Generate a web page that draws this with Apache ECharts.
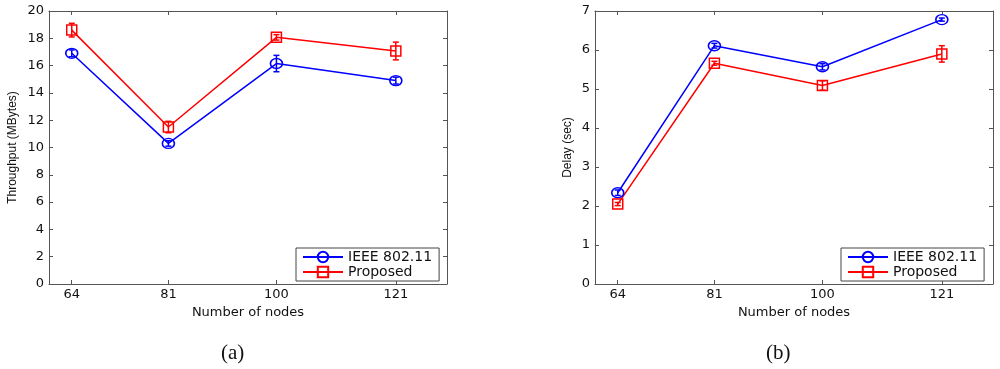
<!DOCTYPE html>
<html><head><meta charset="utf-8">
<script src="https://cdn.jsdelivr.net/npm/echarts@6/dist/echarts.min.js"></script>
<style>html,body{margin:0;padding:0;background:#fff}#c{width:1000px;height:369px}</style>
</head><body><div id="c"></div>
<script>
var nodes = [64, 81, 100, 121];
var thrIEEE = [16.9, 10.3, 16.15, 14.9];
var thrIEEEErr = [0.25, 0.2, 0.6, 0.25];
var thrProp = [18.6, 11.5, 18.07, 17.07];
var thrPropErr = [0.5, 0.42, 0.2, 0.65];
var delIEEE = [2.34, 6.11, 5.57, 6.78];
var delIEEEErr = [0.07, 0.06, 0.08, 0.04];
var delProp = [2.05, 5.66, 5.09, 5.9];
var delPropErr = [0.04, 0.05, 0.12, 0.21];
var thrTicks = [0, 2, 4, 6, 8, 10, 12, 14, 16, 18, 20];
var delTicks = [0, 1, 2, 3, 4, 5, 6, 7];

var BLUE = '#0000ff', RED = '#ff0000', AX = '#555';
var FONT = 'DejaVu Sans';

function pts(ys){ return nodes.map(function(x,i){return [x, ys[i]];}); }
function errs(ys, es){ return nodes.map(function(x,i){return [x, ys[i]-es[i], ys[i]+es[i]];}); }

function xAx(gi, pos){
  return {
    type:'value', gridIndex:gi, min:60, max:130, position:pos,
    name: pos==='bottom' ? 'Number of nodes' : '', nameLocation:'middle', nameGap:16,
    nameTextStyle:{fontFamily:FONT, fontSize:13, color:'#111'},
    axisLine:{show:true, onZero:false, lineStyle:{color:AX, width:1}},
    axisTick:{show:true, inside:true, length:4, customValues:nodes, lineStyle:{color:AX}},
    axisLabel:{show: pos==='bottom', customValues:nodes, margin:4, fontFamily:FONT, fontSize:13, color:'#111'},
    splitLine:{show:false}
  };
}
function yAx(gi, pos, max, interval, name, gap){
  return {
    type:'value', gridIndex:gi, min:0, max:max, interval:interval, position:pos,
    name: pos==='left' ? name : '', nameLocation:'middle', nameGap:gap,
    nameTextStyle:{fontFamily:'Liberation Sans', fontSize:12, color:'#111'},
    axisLine:{show:true, onZero:false, lineStyle:{color:AX, width:1}},
    axisTick:{show:true, inside:true, length:4, lineStyle:{color:AX}},
    axisLabel:{show: pos==='left', margin:5, fontFamily:FONT, fontSize:13, color:'#111'},
    splitLine:{show:false}
  };
}
function lineS(name, data, color, sym, size, xi, yi){
  return {
    type:'line', name:name, data:data, xAxisIndex:xi, yAxisIndex:yi,
    symbol:sym, symbolSize:size, showAllSymbol:true,
    lineStyle:{color:color, width:1.5},
    itemStyle:{color:'rgba(255,255,255,0)', borderColor:color, borderWidth:1.5},
    emphasis:{disabled:true}, z:3
  };
}
function errS(name, data, color, xi, yi){
  return {
    type:'custom', name:name, data:data, xAxisIndex:xi, yAxisIndex:yi, z:4,
    renderItem:function(params, api){
      var x = api.value(0);
      var lo = api.coord([x, api.value(1)]);
      var hi = api.coord([x, api.value(2)]);
      var w = 3;
      var st = {stroke:color, lineWidth:1.5, fill:null};
      return {type:'group', children:[
        {type:'line', shape:{x1:lo[0], y1:lo[1], x2:hi[0], y2:hi[1]}, style:st},
        {type:'line', shape:{x1:lo[0]-w, y1:lo[1], x2:lo[0]+w, y2:lo[1]}, style:st},
        {type:'line', shape:{x1:hi[0]-w, y1:hi[1], x2:hi[0]+w, y2:hi[1]}, style:st}
      ]};
    },
    tooltip:{show:false}
  };
}
function legend(left){
  return {
    left:left, top:248, orient:'vertical', itemWidth:40, itemHeight:13, itemGap:1,
    padding:[2,7,2,6], borderColor:'#444', borderWidth:1, backgroundColor:'#fff',
    textStyle:{fontFamily:FONT, fontSize:14, color:'#111'},
    data:['IEEE 802.11','Proposed'], selectedMode:false
  };
}

var chart = echarts.init(document.getElementById('c'), null, {renderer:'canvas'});
chart.setOption({
  animation:false,
  backgroundColor:'#fff',
  grid:[
    {left:49, top:11, width:398, height:273},
    {left:595, top:11, width:398, height:273}
  ],
  xAxis:[xAx(0,'bottom'), xAx(1,'bottom'), xAx(0,'top'), xAx(1,'top')],
  yAxis:[
    yAx(0,'left',20,2,'Throughput (MBytes)',30),
    yAx(1,'left',7,1,'Delay (sec)',21),
    yAx(0,'right',20,2,'',0),
    yAx(1,'right',7,1,'',0)
  ],
  legend:[legend(296), legend(841)],
  series:[
    lineS('IEEE 802.11', pts(thrIEEE), BLUE, 'circle', [12,10], 0, 0),
    lineS('Proposed', pts(thrProp), RED, 'rect', [10,10], 0, 0),
    errS('IEEE err', errs(thrIEEE, thrIEEEErr), BLUE, 0, 0),
    errS('Prop err', errs(thrProp, thrPropErr), RED, 0, 0),
    lineS('IEEE 802.11', pts(delIEEE), BLUE, 'circle', [12,10], 1, 1),
    lineS('Proposed', pts(delProp), RED, 'rect', [10,10], 1, 1),
    errS('IEEE err', errs(delIEEE, delIEEEErr), BLUE, 1, 1),
    errS('Prop err', errs(delProp, delPropErr), RED, 1, 1)
  ],
  graphic:[
    {type:'text', left:221, top:343, style:{text:'(a)', fontFamily:'Liberation Serif', fontSize:21, fill:'#111'}},
    {type:'text', left:766, top:343, style:{text:'(b)', fontFamily:'Liberation Serif', fontSize:21, fill:'#111'}}
  ]
});
</script></body></html>
